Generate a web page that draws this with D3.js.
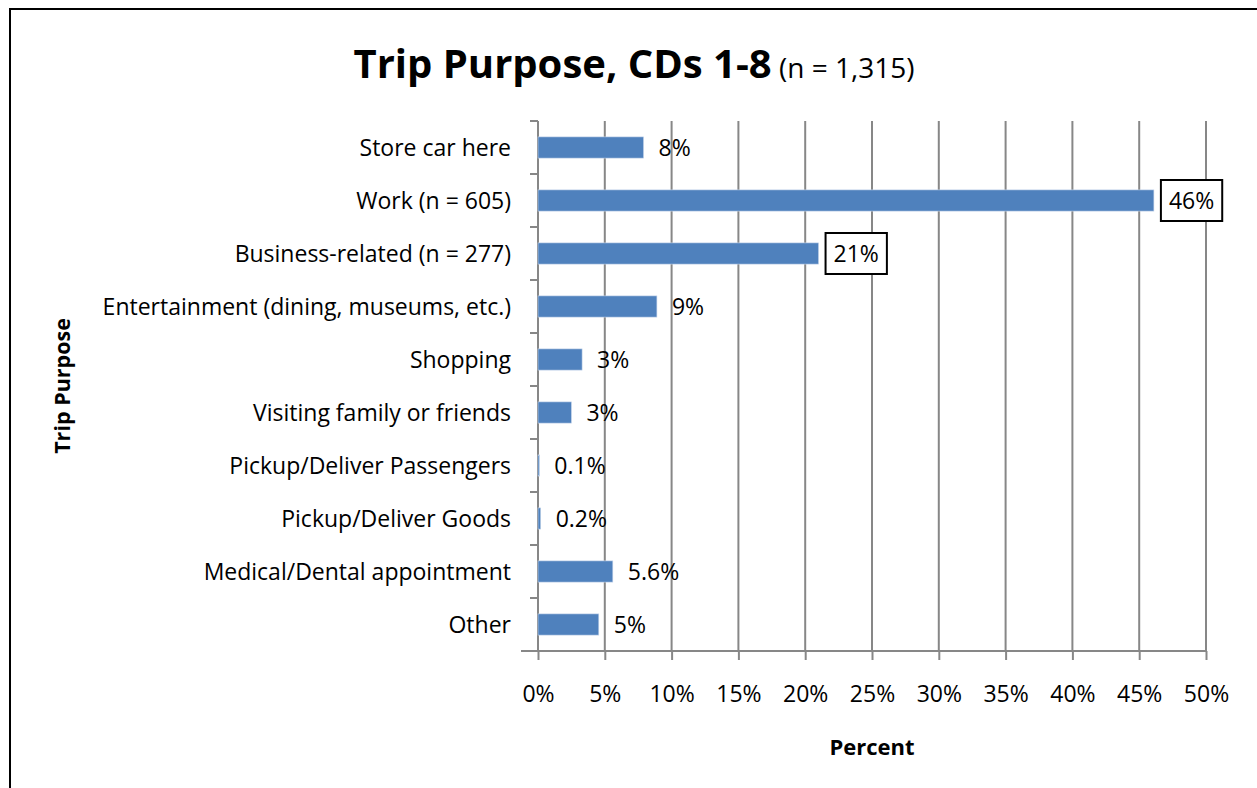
<!DOCTYPE html>
<html>
<head>
<meta charset="utf-8">
<script src="https://cdn.jsdelivr.net/npm/d3@7"></script>
<style>
  body { margin: 0; background: #fff; }
  svg { display: block; font-family: "Open Sans", sans-serif; }
</style>
</head>
<body>
<div id="chart"></div>
<script>
const categories = [
  "Store car here",
  "Work (n = 605)",
  "Business-related (n = 277)",
  "Entertainment (dining, museums, etc.)",
  "Shopping",
  "Visiting family or friends",
  "Pickup/Deliver Passengers",
  "Pickup/Deliver Goods",
  "Medical/Dental appointment",
  "Other"
];
const values = [7.9, 46.1, 21.0, 8.9, 3.3, 2.5, 0.1, 0.2, 5.6, 4.55];
const labels = ["8%", "46%", "21%", "9%", "3%", "3%", "0.1%", "0.2%", "5.6%", "5%"];
const boxed = [false, true, true, false, false, false, false, false, false, false];
const xTicks = [0, 5, 10, 15, 20, 25, 30, 35, 40, 45, 50];

const W = 1257, H = 788;
const margin = { top: 121, left: 538, right: 51, bottom: 137 };
const width = W - margin.left - margin.right,
      height = H - margin.top - margin.bottom;
const fs = 23;

const svg = d3.select("#chart").append("svg")
  .attr("width", W).attr("height", H);

// outer frame
svg.append("path")
  .attr("d", `M10,${H} L10,9 L${W},9`)
  .attr("fill", "none").attr("stroke", "#000").attr("stroke-width", 2);

const g = svg.append("g").attr("transform", `translate(${margin.left},${margin.top})`);

const x = d3.scaleLinear().domain([0, 50]).range([0, width]);
const y = d3.scaleBand().domain(categories).range([0, height]).paddingInner(0.6).paddingOuter(0.3);

// gridlines
g.selectAll(".grid").data(xTicks.slice(1)).enter().append("line")
  .attr("x1", d => x(d)).attr("x2", d => x(d))
  .attr("y1", 0).attr("y2", height)
  .attr("stroke", "#878787").attr("stroke-width", 2);

// x axis
const xAxis = g.append("g")
  .attr("transform", `translate(0,${height})`)
  .call(d3.axisBottom(x).tickValues(xTicks).tickFormat(d => d + "%").tickSize(9).tickPadding(26));
xAxis.select(".domain").attr("stroke", "#878787").attr("stroke-width", 2).attr("d", `M-17,0H${width}`);
xAxis.selectAll(".tick line").attr("stroke", "#878787").attr("stroke-width", 2);
xAxis.selectAll("text").attr("font-size", fs).attr("fill", "#000").attr("font-family", "Open Sans");

// y axis
const step = height / categories.length;
const yAxis = g.append("g");
yAxis.append("line").attr("x1", 0).attr("x2", 0).attr("y1", 0).attr("y2", height)
  .attr("stroke", "#878787").attr("stroke-width", 2);
yAxis.selectAll(".ytick").data(d3.range(categories.length + 1)).enter().append("line")
  .attr("x1", -8).attr("x2", 0)
  .attr("y1", i => i * step).attr("y2", i => i * step)
  .attr("stroke", "#878787").attr("stroke-width", 2);
yAxis.selectAll(".ylab").data(categories).enter().append("text")
  .attr("x", -27)
  .attr("y", d => y(d) + y.bandwidth() / 2)
  .attr("dy", "0.35em")
  .attr("text-anchor", "end")
  .attr("font-size", fs)
  .text(d => d);

// bars
g.selectAll(".bar").data(values).enter().append("rect")
  .attr("x", 0)
  .attr("y", (d, i) => y(categories[i]))
  .attr("width", d => x(d))
  .attr("height", y.bandwidth())
  .attr("fill", "#4f81bd")
  .attr("stroke", "#c5d5ea").attr("stroke-width", 0.6);

// data labels
const labelG = g.append("g");
values.forEach((v, i) => {
  const cy = y(categories[i]) + y.bandwidth() / 2;
  const cell = labelG.append("g");
  const t = cell.append("text")
    .attr("x", x(v) + 15).attr("y", cy).attr("dy", "0.35em")
    .attr("font-size", fs)
    .text(labels[i]);
  if (boxed[i]) {
    const bb = t.node().getBBox();
    cell.insert("rect", "text")
      .attr("x", x(v) + 7).attr("y", cy - 20.5)
      .attr("width", bb.width + 16).attr("height", 41)
      .attr("fill", "#fff").attr("stroke", "#000").attr("stroke-width", 2);
  }
});

// title
const title = svg.append("text")
  .attr("x", 634).attr("y", 78)
  .attr("text-anchor", "middle");
title.append("tspan").attr("font-size", 40).attr("font-weight", "bold").text("Trip Purpose, CDs 1-8");
title.append("tspan").attr("font-size", 28).text(" (n = 1,315)");

// axis titles
svg.append("text")
  .attr("x", margin.left + width / 2).attr("y", 755)
  .attr("text-anchor", "middle")
  .attr("font-size", 22).attr("font-weight", "bold")
  .text("Percent");

svg.append("text")
  .attr("transform", `translate(70,${margin.top + height / 2}) rotate(-90)`)
  .attr("text-anchor", "middle")
  .attr("font-size", 21.5).attr("font-weight", "bold")
  .text("Trip Purpose");
</script>
</body>
</html>
